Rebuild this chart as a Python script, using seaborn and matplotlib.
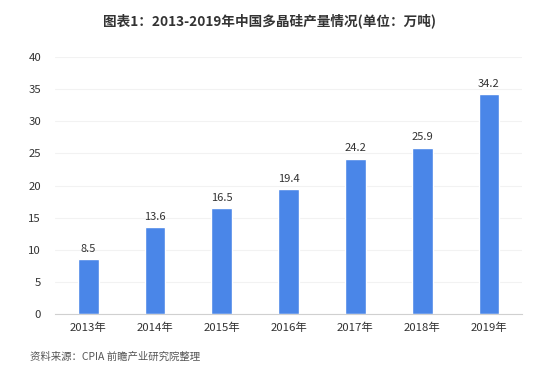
import numpy as np
import pandas as pd
import seaborn as sb
import matplotlib.pyplot as plt

years = ['2013年', '2014年', '2015年', '2016年', '2017年', '2018年', '2019年']
output = [8.5, 13.6, 16.5, 19.4, 24.2, 25.9, 34.2]

sb.set_style('white')
plt.rcParams['font.family'] = ['Noto Sans CJK SC', 'DejaVu Sans']

data = pd.DataFrame({'year': years, 'output': output})

fig = plt.figure(figsize=(5.33, 3.7), dpi=100)
ax = fig.add_axes([0.103, 0.151, 0.877, 0.695])

sb.barplot(data=data, x='year', y='output', color='#4a86e8', saturation=1, width=0.31, ax=ax)

# value labels above bars
for i, v in enumerate(output):
    ax.text(i, v + 0.8, f'{v}', ha='center', va='bottom', fontsize=8, color='#333333')

ax.set_ylim(0, 40)
ax.set_yticks(np.arange(0, 41, 5))
ax.set_xlim(-0.5, len(years) - 0.5)
ax.yaxis.grid(True, color='#f2f2f2', linewidth=0.8)
ax.set_axisbelow(True)
for s in ['top', 'right', 'left']:
    ax.spines[s].set_visible(False)
ax.spines['bottom'].set_color('#d0d0d0')
ax.tick_params(axis='both', length=0, labelsize=8.2, labelcolor='#333333')
ax.tick_params(axis='y', pad=10)
ax.tick_params(axis='x', pad=6)
ax.set_xlabel('')
ax.set_ylabel('')

fig.text(0.505, 0.945, '图表1：2013-2019年中国多晶硅产量情况(单位：万吨)', ha='center', va='center',
         fontsize=9.8, fontweight='bold', color='#333333')
fig.text(0.056, 0.035, '资料来源：CPIA 前瞻产业研究院整理', ha='left', va='center',
         fontsize=7.5, color='#555555')

plt.savefig('out.png', dpi=100)
